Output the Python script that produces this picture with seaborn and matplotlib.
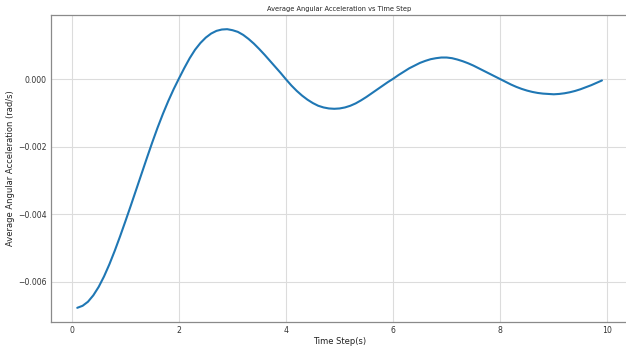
import numpy as np
import pandas as pd
import matplotlib
matplotlib.use("Agg")
import matplotlib.pyplot as plt
import seaborn as sns

# 时间步 (s)
time_step = [
    0.1, 0.2, 0.3, 0.4, 0.5, 0.6, 0.7, 0.8, 0.9, 1.0,
    1.1, 1.2, 1.3, 1.4, 1.5, 1.6, 1.7, 1.8, 1.9, 2.0,
    2.1, 2.2, 2.3, 2.4, 2.5, 2.6, 2.7, 2.8, 2.9, 3.0,
    3.1, 3.2, 3.3, 3.4, 3.5, 3.6, 3.7, 3.8, 3.9, 4.0,
    4.1, 4.2, 4.3, 4.4, 4.5, 4.6, 4.7, 4.8, 4.9, 5.0,
    5.1, 5.2, 5.3, 5.4, 5.5, 5.6, 5.7, 5.8, 5.9, 6.0,
    6.1, 6.2, 6.3, 6.4, 6.5, 6.6, 6.7, 6.8, 6.9, 7.0,
    7.1, 7.2, 7.3, 7.4, 7.5, 7.6, 7.7, 7.8, 7.9, 8.0,
    8.1, 8.2, 8.3, 8.4, 8.5, 8.6, 8.7, 8.8, 8.9, 9.0,
    9.1, 9.2, 9.3, 9.4, 9.5, 9.6, 9.7, 9.8, 9.9,
]

# 平均角加速度 (rad/s)
avg_ang_acc = [
    -0.00678, -0.00672, -0.00660, -0.00641, -0.00616, -0.00585, -0.00549, -0.00509, -0.00466, -0.00421,
    -0.00375, -0.00328, -0.00281, -0.00234, -0.00188, -0.00144, -0.00103, -0.00065, -0.00030, 0.00002,
    0.00033, 0.00062, 0.00087, 0.00107, 0.00123, 0.00135, 0.00143, 0.00147, 0.00148, 0.00145,
    0.00140, 0.00131, 0.00119, 0.00105, 0.00089, 0.00072, 0.00054, 0.00036, 0.00018, -0.00001,
    -0.00019, -0.00035, -0.00049, -0.00061, -0.00071, -0.00079, -0.00084, -0.00087, -0.00088, -0.00087,
    -0.00084, -0.00079, -0.00072, -0.00063, -0.00053, -0.00042, -0.00031, -0.00020, -0.00009, 0.00001,
    0.00012, 0.00022, 0.00032, 0.00040, 0.00048, 0.00054, 0.00059, 0.00062, 0.00064, 0.00064,
    0.00062, 0.00058, 0.00053, 0.00047, 0.00040, 0.00032, 0.00024, 0.00016, 0.00008, 0.00000,
    -0.00008, -0.00016, -0.00023, -0.00029, -0.00034, -0.00038, -0.00041, -0.00043, -0.00044, -0.00045,
    -0.00044, -0.00042, -0.00039, -0.00035, -0.00030, -0.00024, -0.00018, -0.00011, -0.00004,
]

df = pd.DataFrame({"time": time_step, "acc": avg_ang_acc})

sns.set_style("whitegrid", {"grid.color": "#dcdcdc", "axes.edgecolor": "#8a8a8a"})
plt.rcParams["font.family"] = ["DejaVu Sans"]

fig = plt.figure(figsize=(6.26, 3.46), dpi=100)
ax = fig.add_axes([0.0815, 0.0694, 0.922, 0.8872])

sns.lineplot(data=df, x="time", y="acc", ax=ax, color="#1f77b4", linewidth=1.5)

ax.set_title("Average Angular Acceleration vs Time Step", fontsize=4.8, pad=3, color="#222222")
ax.set_xlabel("Time Step(s)", fontsize=6, labelpad=1.5, color="#222222")
ax.set_ylabel("Average Angular Acceleration (rad/s)", fontsize=6, labelpad=2, color="#222222")
ax.tick_params(axis="both", labelsize=5.6, length=0, pad=3, colors="#333333")
ax.set_xticks([0, 2, 4, 6, 8, 10])
ax.set_yticks([-0.006, -0.004, -0.002, 0.0])
ax.yaxis.set_major_formatter(
    matplotlib.ticker.FuncFormatter(lambda v, p: f"{v:.3f}".replace("-", "\u2212"))
)
ax.set_ylim(-0.0072, 0.0019)
ax.grid(True, linewidth=0.8)
ax.spines["right"].set_visible(False)
for s in ["left", "bottom", "top"]:
    ax.spines[s].set_linewidth(0.9)

fig.savefig("out.png", dpi=100)
